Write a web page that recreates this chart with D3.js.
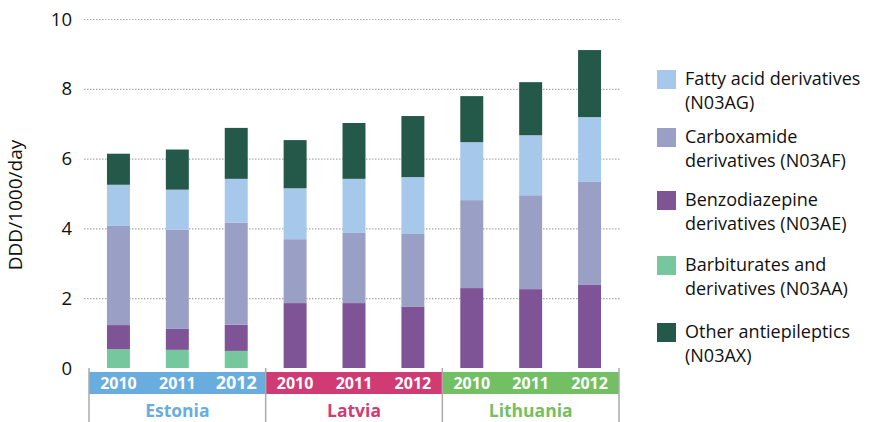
<!DOCTYPE html>
<html>
<head>
<meta charset="utf-8">
<script src="https://cdn.jsdelivr.net/npm/d3@7"></script>
<style>
  body { margin: 0; background: #fff; }
  svg { font-family: "Open Sans", Lato, sans-serif; }
</style>
</head>
<body>
<div id="chart"></div>
<script>
// data
var countries = ["Estonia", "Latvia", "Lithuania"];
var years = ["2010", "2011", "2012"];
var countryColors = ["#69ACDE", "#D13B74", "#73BF64"];

var seriesNames = [
  "Barbiturates and derivatives (N03AA)",
  "Benzodiazepine derivatives (N03AE)",
  "Carboxamide derivatives (N03AF)",
  "Fatty acid derivatives (N03AG)",
  "Other antiepileptics (N03AX)"
];
var seriesColors = ["#76C79D", "#7F5496", "#9A9FC5", "#A6C9EB", "#245848"];

// one value per bar: Estonia 2010..2012, Latvia 2010..2012, Lithuania 2010..2012
var barbiturates = [0.54, 0.52, 0.49, 0, 0, 0, 0, 0, 0];
var benzodiazepine = [0.69, 0.60, 0.75, 1.86, 1.86, 1.75, 2.29, 2.26, 2.38];
var carboxamide = [2.84, 2.84, 2.92, 1.83, 2.01, 2.09, 2.52, 2.69, 2.95];
var fattyAcid = [1.18, 1.15, 1.26, 1.46, 1.55, 1.63, 1.66, 1.72, 1.86];
var other = [0.89, 1.15, 1.46, 1.38, 1.60, 1.75, 1.32, 1.52, 1.92];

var yTicks = [0, 2, 4, 6, 8, 10];

// legend order as shown top to bottom
var legendOrder = [3, 2, 1, 0, 4];
var legendLines = [
  ["Fatty acid derivatives", "(N03AG)"],
  ["Carboxamide", "derivatives (N03AF)"],
  ["Benzodiazepine", "derivatives (N03AE)"],
  ["Barbiturates and", "derivatives (N03AA)"],
  ["Other antiepileptics", "(N03AX)"]
];
var legendTop = [70, 128, 191, 256, 323];

var W = 873, H = 422;
var plotL = 89, plotR = 619, plotT = 19, plotB = 368;

var svg = d3.select("#chart").append("svg")
  .attr("width", W).attr("height", H);

var bars = [];
countries.forEach(function(c, ci) {
  years.forEach(function(yr, yi) {
    var i = ci * 3 + yi;
    bars.push({
      key: c + "-" + yr, country: c, ci: ci, year: yr,
      s0: barbiturates[i], s1: benzodiazepine[i], s2: carboxamide[i],
      s3: fattyAcid[i], s4: other[i]
    });
  });
});

var x = d3.scaleBand()
  .domain(bars.map(function(d) { return d.key; }))
  .range([plotL, plotR])
  .paddingInner(0.61).paddingOuter(0.305);

var y = d3.scaleLinear().domain([0, 10]).range([plotB, plotT]);

// gridlines
svg.append("g").selectAll("line")
  .data(yTicks.filter(function(t) { return t > 0; }))
  .enter().append("line")
  .attr("x1", 84).attr("x2", 620)
  .attr("y1", function(d) { return y(d) + 0.5; })
  .attr("y2", function(d) { return y(d) + 0.5; })
  .attr("stroke", "#AAAAAA")
  .attr("stroke-width", 1.2)
  .attr("stroke-dasharray", "1.5,1.5");

// y tick labels
svg.append("g").selectAll("text")
  .data(yTicks)
  .enter().append("text")
  .attr("x", 72)
  .attr("y", function(d) { return y(d); })
  .attr("dy", "0.36em")
  .attr("text-anchor", "end")
  .attr("font-size", "18.5px")
  .attr("fill", "#111")
  .text(function(d) { return d; });

svg.append("text")
  .attr("transform", "translate(22,205) rotate(-90)")
  .attr("text-anchor", "middle")
  .attr("font-size", "19px")
  .attr("fill", "#111")
  .text("DDD/1000/day");

// stacked bars
var keys = ["s0", "s1", "s2", "s3", "s4"];
var stack = d3.stack().keys(keys)(bars);

svg.append("g").selectAll("g")
  .data(stack)
  .enter().append("g")
  .attr("fill", function(d, i) { return seriesColors[i]; })
  .selectAll("rect")
  .data(function(d) { return d; })
  .enter().append("rect")
  .attr("x", function(d) { return x(d.data.key); })
  .attr("width", x.bandwidth())
  .attr("y", function(d) { return y(d[1]); })
  .attr("height", function(d) { return y(d[0]) - y(d[1]); });

// country bands under the axis
var groupW = (plotR - plotL) / countries.length;
var bandG = svg.append("g");
countries.forEach(function(c, ci) {
  bandG.append("rect")
    .attr("x", plotL + ci * groupW)
    .attr("y", 372)
    .attr("width", groupW)
    .attr("height", 22)
    .attr("fill", countryColors[ci]);
  bandG.append("text")
    .attr("x", plotL + ci * groupW + groupW / 2)
    .attr("y", 417)
    .attr("text-anchor", "middle")
    .attr("font-size", "17.5px")
    .attr("font-weight", "bold")
    .attr("fill", countryColors[ci])
    .text(c);
});

bandG.selectAll("text.yr")
  .data(bars)
  .enter().append("text")
  .attr("class", "yr")
  .attr("x", function(d) { return x(d.key) + x.bandwidth() / 2; })
  .attr("y", 389)
  .attr("text-anchor", "middle")
  .attr("font-size", function(d) { return d.key === "Estonia-2012" ? "18px" : "16px"; })
  .attr("font-weight", "bold")
  .attr("fill", "#fff")
  .text(function(d) { return d.year; });

// separators
bandG.selectAll("line")
  .data(d3.range(countries.length + 1))
  .enter().append("line")
  .attr("x1", function(d) { return plotL + d * groupW; })
  .attr("x2", function(d) { return plotL + d * groupW; })
  .attr("y1", 368).attr("y2", 422)
  .attr("stroke", "#AAAAAA")
  .attr("stroke-width", 1.5);

// legend
var legend = svg.append("g").selectAll("g")
  .data(legendOrder)
  .enter().append("g")
  .attr("transform", function(d, i) { return "translate(657," + legendTop[i] + ")"; });

legend.append("rect")
  .attr("width", 19).attr("height", 19)
  .attr("fill", function(d) { return seriesColors[d]; });

legend.each(function(d, i) {
  var t = d3.select(this).append("text")
    .attr("x", 28).attr("y", 15)
    .attr("font-size", "18px")
    .attr("fill", "#111");
  legendLines[i].forEach(function(line, li) {
    t.append("tspan").attr("x", 28).attr("dy", li === 0 ? 0 : 23.5).text(line);
  });
});
</script>
</body>
</html>
